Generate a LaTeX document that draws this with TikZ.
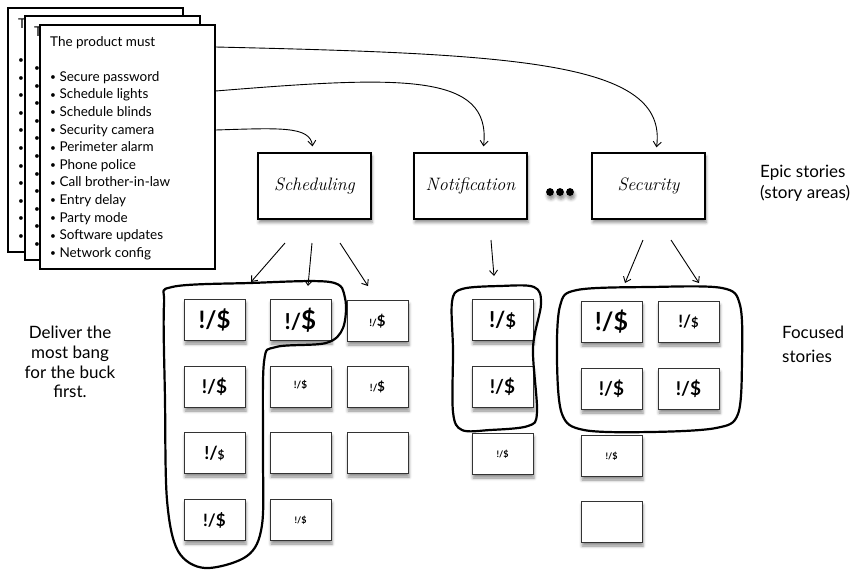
\documentclass[tikz,border=0pt]{standalone}
\usepackage{fontspec}
\setmainfont{Lato}
\newfontfamily\epicfont{Latin Modern Roman}
\usepackage{tikz}
\usetikzlibrary{arrows.meta,positioning,shadows.blur,calc}

% sizes of the "!/" part and of the "$" part
\newcommand{\bang}[2]{\bfseries{\fontsize{#1}{#1}\selectfont !/}{\fontsize{#2}{#2}\selectfont\$}}
\newcommand{\sbul}{\raisebox{0.6pt}{\scalebox{0.75}{\textbullet}}}
\newcommand{\productlist}{The product must\\[17.6pt]
\sbul\ Secure password\\
\sbul\ Schedule lights\\
\sbul\ Schedule blinds\\
\sbul\ Security camera\\
\sbul\ Perimeter alarm\\
\sbul\ Phone police\\
\sbul\ Call brother-in-law\\
\sbul\ Entry delay\\
\sbul\ Party mode\\
\sbul\ Software updates\\
\sbul\ Network config}
% what shows of a sheet lying underneath
\newcommand{\hiddenlist}{T\\[17.6pt]\sbul\\\sbul\\\sbul\\\sbul\\\sbul\\\sbul\\\sbul\\\sbul\\\sbul\\\sbul\\\sbul}

\begin{document}
\begin{tikzpicture}[
  x=1pt, y=-1pt,
  >={Straight Barb[length=5pt,width=8pt]},
  sheet/.style={draw, line width=1.6pt, fill=white, anchor=north west, minimum width=175pt, minimum height=244pt, inner sep=0pt},
  sheettext/.style={anchor=north west, align=left, inner sep=0pt, font=\fontsize{13.5}{17.6}\selectfont},
  shade/.style={blur shadow={shadow xshift=1pt, shadow yshift=-3.5pt, shadow opacity=45, shadow blur radius=3pt}},
  epic/.style={draw, line width=1.3pt, fill=white, shade, minimum width=113pt, minimum height=66pt, font=\epicfont\itshape\fontsize{18}{20}\selectfont},
  card/.style={draw=black!80, line width=1pt, fill=white, shade, minimum width=61pt, minimum height=41pt, inner sep=0pt},
  note/.style={align=left, inner sep=0pt, font=\fontsize{17}{21}\selectfont},
  blob/.style={line width=2.2pt, line join=round},
  arr/.style={->, line width=0.9pt}
]
\useasboundingbox (0,0) rectangle (868,571);

% stack of requirement sheets
\node[sheet] (back) at (7,7) {};
\node[sheettext] (backtext) at (18,19) {\hiddenlist};
\node[sheet] (middle) at (24,15) {};
\node[sheettext] (middletext) at (34,27) {\hiddenlist};
\node[sheet] (front) at (39,24) {};
\node[sheettext] (fronttext) at (50,36) {\productlist};

% epics
\node[epic] (sched) at (314.5,186) {Scheduling};
\node[epic] (notif) at (470.5,186) {Notification};
\node[epic] (sec) at (648.5,186) {Security};
\foreach \x in {550,560,570} \fill[shade] (\x,192) circle (3.9pt);

\draw[arr] ($(front.north east)+(0,23)$) .. controls (520,54) and (668,62) .. ([xshift=8pt,yshift=5pt]sec.north);
\draw[arr] ($(front.north east)+(0,67)$) .. controls (400,76) and (492,72) .. ([xshift=13pt,yshift=6pt]notif.north);
\draw[arr] ($(front.north east)+(0,106)$) .. controls (280,128) and (310,126) .. ([xshift=-2pt,yshift=6pt]sched.north);

% story cards
\node[card] (s11) at (214.5,320) {\bang{24}{24}};
\node[card] (s21) at (300.5,320) {\bang{22}{26}};
\node[card] (s31) at (377.5,321) {\bang{10}{15}};
\node[card] (s12) at (214.5,387) {\bang{19}{19}};
\node[card] (s22) at (300.5,387) {\raisebox{5pt}{\bang{10}{10}}};
\node[card] (s32) at (377.5,387) {\bang{10}{13}};
\node[card] (s13) at (214.5,453) {\bang{18}{12}};
\node[card] (s23) at (300.5,453) {};
\node[card] (s33) at (377.5,453) {};
\node[card] (s14) at (214.5,520) {\bang{17}{17}};
\node[card] (s24) at (300.5,520) {\bang{9}{9}};

\node[card] (n1) at (502.5,320) {\bang{22}{18}};
\node[card] (n2) at (502.5,387) {\bang{19}{19}};
\node[card] (n3) at (502.5,454) {\bang{9}{9}};

\node[card] (c11) at (611.5,322) {\bang{25}{25}};
\node[card] (c21) at (688.5,322) {\bang{17}{13}};
\node[card] (c12) at (611.5,389) {\bang{19}{19}};
\node[card] (c22) at (688.5,389) {\bang{19}{19}};
\node[card] (c13) at (611.5,456) {\bang{9}{9}};
\node[card] (c14) at (611.5,522) {};

% arrows to the cards
\coordinate (sa1) at (285,243); \coordinate (sb1) at (251,282);
\coordinate (sa2) at (312,243); \coordinate (sb2) at (308,286);
\coordinate (sa3) at (340,243); \coordinate (sb3) at (368,286);
\coordinate (na1) at (491,240); \coordinate (nb1) at (494,276);
\coordinate (ca1) at (643,240); \coordinate (cb1) at (625,283);
\coordinate (ca2) at (671,240); \coordinate (cb2) at (699,283);
\draw[arr] (sa1) -- (sb1);
\draw[arr] (sa2) -- (sb2);
\draw[arr] (sa3) -- (sb3);
\draw[arr] (na1) -- (nb1);
\draw[arr] (ca1) -- (cb1);
\draw[arr] (ca2) -- (cb2);

% hand drawn groups
\draw[blob] plot[smooth cycle, tension=0.55] coordinates {(172,287) (250,283) (330,282) (345,298) (343,328) (326,343) (276,347) (264,362) (263,450) (262,525) (247,556) (205,568) (178,551) (167,500) (165,400) (164,305)};
\draw[blob] plot[smooth cycle, tension=0.55] coordinates {(462,289) (500,286) (534,287) (541,304) (533,348) (537,412) (528,426) (490,430) (462,430) (453,412) (453,350) (452,302)};
\draw[blob] plot[smooth cycle, tension=0.55] coordinates {(577,290) (650,287) (722,288) (740,305) (742,360) (738,414) (716,428) (650,432) (584,430) (562,414) (557,360) (560,306)};

% labels
\node[note, anchor=west] (epiclabel) at (760,183) {Epic stories\\(story areas)};
\node[note, anchor=west, font=\fontsize{17}{24}\selectfont] (focuslabel) at (782,344) {Focused\\stories};
\node[note, align=center, font=\fontsize{17}{19.7}\selectfont] (bucklabel) at (70,362) {Deliver the\\most bang\\for the buck\\first.};
\end{tikzpicture}
\end{document}
